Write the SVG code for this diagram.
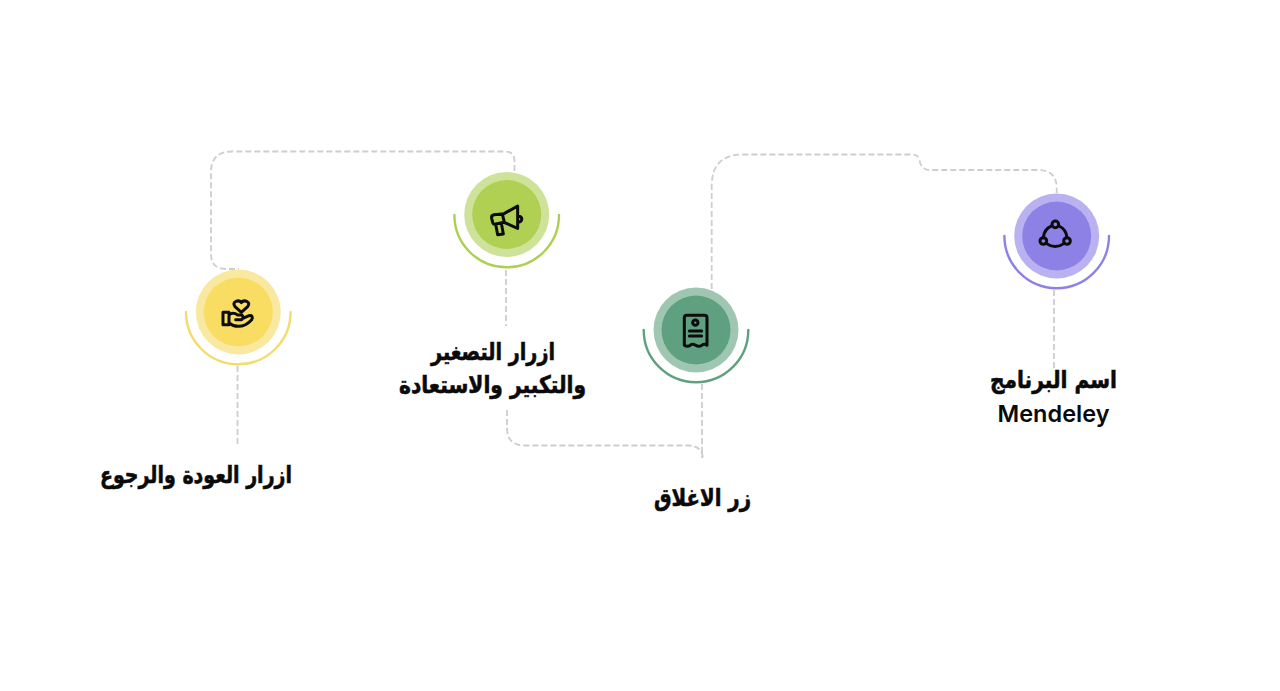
<svg xmlns="http://www.w3.org/2000/svg" width="1280" height="691" viewBox="0 0 1280 691">
<style>
.c{fill:none;stroke:#cfcdcf;stroke-width:1.8;stroke-dasharray:6 3}
.a{fill:none;stroke-width:2.4;stroke-linecap:round}
.i{fill:none;stroke:#0c0c0c;stroke-width:9;stroke-linejoin:round;stroke-linecap:round}
.t{font-family:"DejaVu Sans",sans-serif;font-weight:700;font-size:24px;fill:#0a0a0a;stroke:#0a0a0a;stroke-width:.6;text-anchor:middle}
.m{font-family:"Inter","Noto Sans",sans-serif;font-weight:600;font-size:23.500px;fill:#0a0a0a;text-anchor:middle}
</style>
<rect width="1280" height="691" fill="#fff"/>
<g id="connectors">
<path class="c" d="M514.500 171V161Q514.500 151.500 505 151.500H232Q211 151.500 211 172V254Q211 269 226 269H239"/>
<path class="c" d="M506 270V326"/>
<path class="c" d="M237.500 366V446"/>
<path class="c" d="M507 410V428Q507 445.500 525 445.500H688Q703 445.500 703 460"/>
<path class="c" d="M702 384V458"/>
<path class="c" d="M711.700 289V186Q711.700 154.500 743 154.500H912Q918.500 154.500 919.500 160Q921 170 930 170H1038Q1056.700 170 1056.700 188V193"/>
<path class="c" d="M1054 290V370"/>
</g>
<g id="node-back">
<circle cx="238.300" cy="312" r="42.500" fill="#f9e9a0"/>
<circle cx="238.300" cy="312" r="34.500" fill="#f9dd63"/>
<path class="a" stroke="#f3dc6c" d="M186 312A52.300 52.300 0 0 0 290.600 312"/>
<g transform="translate(213 293) scale(.3333)">
<path class="i" d="M85 58L66 41Q58 30 69 25Q79 21 85 29Q91 21 101 25Q112 30 104 41Z"/>
<path class="i" d="M30 58H48V95H30ZM48 66Q60 56 74 66H86Q94 72 86 80H68M88 77L108 68Q122 66 116 80Q98 100 76 100Q60 100 48 90"/>
</g>
<text class="t" x="196" y="483" direction="rtl" textLength="192" lengthAdjust="spacingAndGlyphs">ازرار العودة والرجوع</text>
</g>
<g id="node-zoom">
<circle cx="506.700" cy="214.500" r="42.500" fill="#cee29a"/>
<circle cx="506.700" cy="214.500" r="34.500" fill="#afd053"/>
<path class="a" stroke="#aecf50" d="M454.400 215A52.300 52.300 0 0 0 559 215"/>
<g transform="translate(480 195) scale(.3333)">
<path class="i" d="M113 33L72 56L42 59Q33 61 35 70L38 82Q40 89 48 87L72 82L113 100ZM67 57L73 82M47 88L53 119L70 117L64 84M114 62Q127 65 125 74Q123 82 114 82"/>
</g>
<text class="t" x="493" y="360" direction="rtl" textLength="124" lengthAdjust="spacingAndGlyphs">ازرار التصغير</text>
<text class="t" x="492.500" y="393" direction="rtl" textLength="187" lengthAdjust="spacingAndGlyphs">والتكبير والاستعادة</text>
</g>
<g id="node-close">
<circle cx="696" cy="330" r="42.500" fill="#9fc6b1"/>
<circle cx="696" cy="330" r="34.500" fill="#5ea07f"/>
<path class="a" stroke="#5ea07f" d="M643.700 330A52.300 52.300 0 0 0 748.300 330"/>
<g transform="translate(671 306) scale(.3333)">
<path class="i" d="M40 118V36Q40 28 48 28H100Q108 28 108 36V118Q100 112 92 118T74 118T57 118T40 118Z"/>
<circle class="i" cx="73" cy="50" r="8"/>
<path class="i" d="M55 75H92M55 90H92"/>
</g>
<text class="t" x="702.500" y="506" direction="rtl" textLength="97" lengthAdjust="spacingAndGlyphs">زر الاغلاق</text>
</g>
<g id="node-name">
<circle cx="1056.700" cy="236" r="42.500" fill="#bab2f0"/>
<circle cx="1056.700" cy="236" r="34.500" fill="#8e81e6"/>
<path class="a" stroke="#8e81e6" d="M1004.400 236A52.300 52.300 0 0 0 1109 236"/>
<g transform="translate(1031 211) scale(.3333)">
<circle class="i" cx="73" cy="40" r="10"/>
<circle class="i" cx="37" cy="90" r="10"/>
<circle class="i" cx="108" cy="90" r="10"/>
<path class="i" d="M62 45A42 42 0 0 0 37 80M84 45A42 42 0 0 1 108 80M47 98A42 42 0 0 0 98 98"/>
</g>
<text class="t" x="1053.500" y="388" direction="rtl" textLength="127" lengthAdjust="spacingAndGlyphs">اسم البرنامج</text>
<text class="m" x="1053.500" y="422">Mendeley</text>
</g>
</svg>
